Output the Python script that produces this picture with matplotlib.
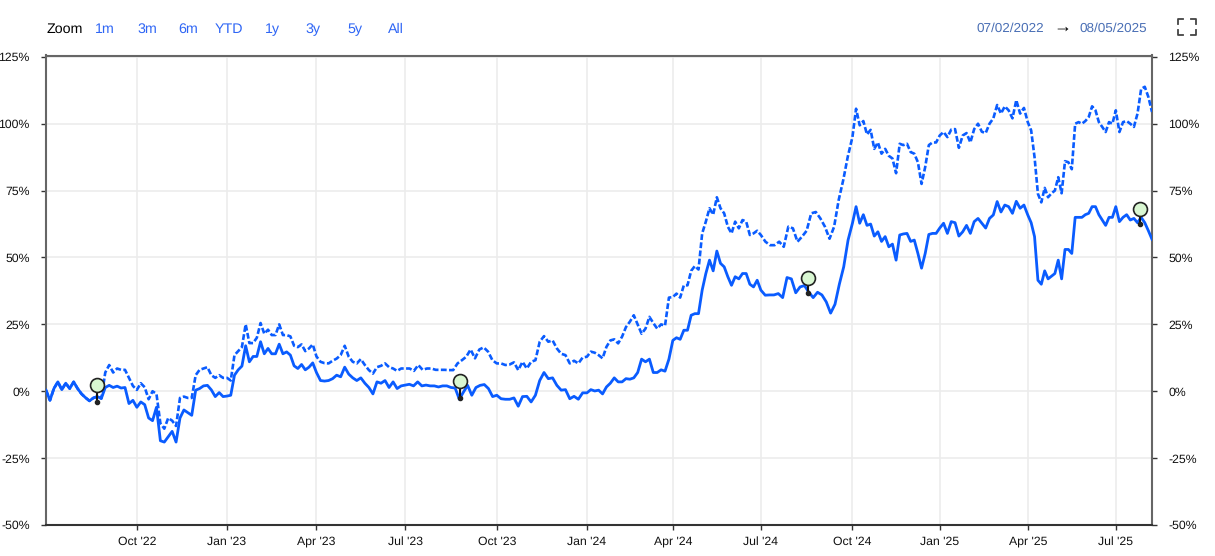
import numpy as np
import matplotlib
matplotlib.use("Agg")
import matplotlib.pyplot as plt
from matplotlib.lines import Line2D

plt.rcParams["font.family"] = ["Liberation Sans", "DejaVu Sans"]
plt.rcParams["text.hinting"] = "none"

W, H = 1215, 556
BLUE = "#0a5cff"

# trading sessions since 07/02/2022, the x axis skips non trading days
tick_sessions = [64, 127.5, 190.5, 253, 317.5, 381, 441.5, 503.5, 568, 629.5, 691.5, 753.5]
tick_labels = ["Oct '22", "Jan '23", "Apr '23", "Jul '23", "Oct '23", "Jan '24", "Apr '24",
               "Jul '24", "Oct '24", "Jan '25", "Apr '25", "Jul '25"]
last_session = 779
y_ticks = [-50, -25, 0, 25, 50, 75, 100, 125]

# values in %, one list per quarter between the ticks
solid = [
    [0.4, -3.4, 1, 3.5, 0.6, 3, 1, 3.5, 1, -1, -2.4, -3.6, -2.5, -2, -2.7, 1.4, 2.2, 1.4, 1.9, 1.2, 1.4, -4.6, -3.4, -6],
    [-4, -5, -10, -11, -6, -18.5, -19, -17, -15, -19, -10, -7, -8, -9, 0.4, 1, 2, 2.2, 0.5, -2, -0.5, -2, -1.8],
    [-1.5, 6, 8, 9.4, 17, 11, 13, 13, 18.5, 14, 16, 14, 14, 17.6, 14, 14.7, 13.5, 9.5, 8.5, 10, 8, 9, 10.6, 7],
    [4, 3.8, 4, 4.7, 6, 5.4, 9, 6.4, 5, 4, 5, 3, 1.4, -1, 3.5, 3, 4, 1.4, 3.5, 1, 2, 2.3],
    [2.6, 2, 3.5, 2, 2.3, 2, 2, 1.6, 2, 2, 1.4, 1.2, -3, -0.3, 2.2, -1.5, 1.4, 2.2, 2.5, 1, -2, -1.5],
    [-2.8, -3, -3, -2.5, -5.6, -2, -1.9, -4, -1.5, 4, 7, 4.7, 5, 2.2, 0.4, 0.6, -2.8, -1.9, -3, -0.6, -0.6],
    [0.6, 0.1, 0.4, -1, 1.6, 3, 5, 3.5, 3.5, 4.7, 4.5, 5, 7, 12, 11, 12, 7, 7, 8, 7.5, 12, 19],
    [20, 19.4, 22.8, 22.8, 28.4, 29, 29, 37.8, 44, 49, 45, 52.4, 47.8, 46.5, 42.8, 39.6, 42.8, 42, 44, 44, 40, 39, 41.5, 37.8],
    [35.9, 36, 36, 36.5, 35, 42.5, 42, 36.8, 39, 39.5, 37, 35, 37, 36, 33.4, 29.2, 32.5, 40, 46.5, 56.5, 62.8],
    [69, 62.8, 66, 62, 62.5, 58, 59.6, 56, 57.8, 54, 55, 49, 58.4, 58.8, 59, 56, 56.5, 51.5, 46, 51.5, 58.6, 59, 59, 61],
    [62.8, 59, 63.4, 63, 58, 59.6, 62, 59, 63.4, 64.6, 62.8, 61, 64.6, 65.9, 70.9, 67, 69.6, 69, 66.5, 71, 68.4, 69.6, 65.9],
    [63, 57.8, 41.5, 40, 45, 42, 43, 44, 49, 42, 53, 53, 51.5, 65, 65, 65, 66, 66.5, 69, 69, 66, 64, 62, 65, 65, 69],
    [63.4, 65, 66, 64, 64.6, 63, 65, 63, 60, 56.8],
]
dashed = [
    [0.4, -3.4, 1, 3.5, 0.6, 3, 1, 3.5, 1, -1, -2.4, -3.6, -2.5, -2, -2.7, 7, 9.8, 7, 8.5, 8, 8, 5, 2, 0.5],
    [3, 1.5, -3, 0, -1, -12, -14, -10, -11, -13, -2.5, -2, -2.5, -2.5, 6, 8, 8.5, 9, 6, 5, 6, 5, 5],
    [4, 13.5, 15, 16.5, 25, 18, 18, 20, 25.5, 21.5, 23, 21, 21, 25, 21, 21, 20.5, 17, 16.5, 17.5, 15, 16, 17.5, 13],
    [11, 10.5, 10.4, 11.4, 12.2, 13.5, 17, 12.9, 11, 10.4, 12, 9.8, 7.9, 6.6, 9, 9.5, 10.4, 9, 8.5, 7.6, 8.5, 8.5],
    [8.5, 7.6, 9.8, 8, 8.5, 8.5, 8, 8, 8, 7.9, 7.9, 10.4, 11.6, 12.9, 15.6, 12.3, 15.6, 16.4, 14.8, 11.6, 10.4],
    [10.4, 9.8, 10, 10.8, 7.9, 11, 8.5, 11, 11.6, 18.5, 20.6, 18.5, 19, 16, 14, 13.5, 10.4, 11.4, 10.4, 12.6, 12.9],
    [14.8, 14.4, 13.5, 12.3, 16.6, 19, 19.4, 17.9, 20.4, 24, 26, 28.4, 25, 21.5, 23.4, 27.8, 25.5, 23.4, 25, 24.5, 35, 35.2],
    [36.5, 35, 39.6, 39.6, 45, 46.8, 45.5, 59, 63.4, 68.4, 66, 72.5, 68.4, 66.5, 61.5, 59, 63.4, 60.9, 64, 63.4, 58.4, 59, 60, 58.4],
    [55.9, 54.6, 54.6, 55.9, 54, 61.5, 60.9, 55.9, 57.8, 60, 66.5, 67, 64.6, 61.5, 57, 61.5, 71.5, 79, 87.8, 95],
    [105.6, 99.4, 101, 96, 97.7, 90.6, 93, 88.8, 90.6, 88, 87, 81.5, 92.5, 92, 92.5, 89.4, 88.8, 85.6, 77.5, 83.8, 92, 93, 93, 95.6],
    [96.9, 95, 97.8, 98, 91, 95.6, 96.5, 93, 98, 100, 97, 96.5, 100, 102, 107, 103.8, 106.5, 105, 102, 108.8, 103.8, 105.9, 100.6],
    [97.5, 87.5, 73.8, 70.6, 76, 72.5, 74, 75, 80, 74, 86, 85.6, 83, 100, 100.6, 100, 101, 102.5, 106.5, 105, 100.6, 98.8, 96.9, 100.6, 100, 105],
    [96.9, 100.6, 101, 100, 98.8, 103.8, 113, 113.8, 110, 104.4],
]

# flag markers: session, top of the stem, bottom of the stem
flag_sessions = [36, 291.5, 536.5, 770.5]
flag_tops = [2.2, 4, 42.4, 68]
flag_bottoms = [-4, -2.6, 36.8, 62.4]

zoom_labels = ["1m", "3m", "6m", "YTD", "1y", "3y", "5y", "All"]
zoom_px = [105, 147, 188, 229, 272, 313, 355, 396]


def flatten(chunks):
    edges = [0] + tick_sessions + [last_session]
    xs = [np.linspace(0, edges[1], len(chunks[0]))]
    for i, chunk in enumerate(chunks[1:], start=1):
        xs.append(np.linspace(edges[i], edges[i + 1], len(chunk) + 1)[1:])
    return np.concatenate(xs), np.concatenate(chunks)


fig = plt.figure(figsize=(W / 100, H / 100), dpi=100)
ax = fig.add_axes([46 / W, 1 - 525 / H, (1152 - 46) / W, (525 - 55.5) / H])

x1, y1 = flatten(solid)
x2, y2 = flatten(dashed)
ax.plot(x2, y2, color=BLUE, lw=1.9, ls=(0, (2.2, 0.9)), zorder=3)
ax.plot(x1, y1, color=BLUE, lw=2.0, solid_joinstyle="round", zorder=4)

ax.vlines(flag_sessions, flag_bottoms, flag_tops, color="#111111", lw=1.5, zorder=5)
ax.plot(flag_sessions, flag_bottoms, "o", color="#222222", ms=3, zorder=5)
ax.plot(flag_sessions, flag_tops, "o", mfc="#d9f7d2", mec="#222222", mew=1.2, ms=10, zorder=6)

ax.set_xlim(0, last_session)
ax.set_ylim(-50, 125.5)
ax.set_xticks(tick_sessions)
ax.set_xticklabels(tick_labels)
ax.set_yticks(y_ticks)
ax.set_yticklabels([f"{v}%" for v in y_ticks])
ax.grid(True, color="#ececec", lw=1.2)
ax.set_axisbelow(True)
ax.tick_params(axis="x", length=3.6, width=1, color="#333333", labelsize=8.8, pad=4.5, labelcolor="#111111")
ax.tick_params(axis="y", length=3.6, width=1, color="#333333", labelsize=8.8, pad=8, labelcolor="#111111",
               right=True, labelright=True)
for side in ["left", "right", "top"]:
    ax.spines[side].set_color("#666666")
    ax.spines[side].set_linewidth(1.5)
ax.spines["bottom"].set_color("#333333")
ax.spines["bottom"].set_linewidth(1.5)

# range selector row above the plot
fig.text(47 / W, 1 - 29.5 / H, "Zoom", fontsize=10.3, color="#000000", ha="left", va="center")
for label, px in zip(zoom_labels, zoom_px):
    fig.text(px / W, 1 - 29.5 / H, label, fontsize=10.3, color="#2f66f5", ha="center", va="center")
fig.text(1044 / W, 1 - 28.5 / H, "07/02/2022", fontsize=9.7, color="#4a6fb5", ha="right", va="center")
fig.text(1062 / W, 1 - 27.5 / H, "→", fontsize=13, color="#000000", ha="center", va="center")
fig.text(1147 / W, 1 - 28.5 / H, "08/05/2025", fontsize=9.7, color="#4a6fb5", ha="right", va="center")

# fullscreen icon corners
for cx, cy, dx, dy in [(1178, 19, 1, 1), (1196, 19, -1, 1), (1178, 35, 1, -1), (1196, 35, -1, -1)]:
    fig.add_artist(Line2D([(cx + 5 * dx) / W, cx / W, cx / W],
                          [1 - cy / H, 1 - cy / H, 1 - (cy + 5 * dy) / H],
                          color="#444444", lw=1.3))

fig.savefig("out.png", dpi=100)
